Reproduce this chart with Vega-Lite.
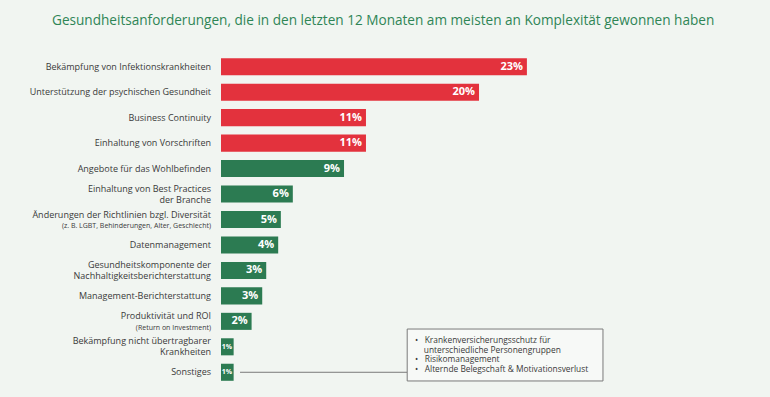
{
  "$schema": "https://vega.github.io/schema/vega-lite/v6.json",
  "width": 532,
  "height": 331,
  "autosize": {"type": "none"},
  "padding": {"left": 221, "top": 54, "right": 17, "bottom": 12},
  "background": "#f1f5f1",
  "config": {"view": {"stroke": null}, "font": "Open Sans"},
  "title": {
    "text": "Gesundheitsanforderungen, die in den letzten 12 Monaten am meisten an Komplexität gewonnen haben",
    "anchor": "start",
    "frame": "group",
    "dx": -169,
    "offset": 26,
    "fontSize": 13.6,
    "fontWeight": "normal",
    "color": "#2f8556",
    "font": "Open Sans"
  },
  "datasets": {
    "bars": [
      {"cat": "Bekämpfung von Infektionskrankheiten", "sub": null, "share": 23, "text": "23%", "gruppe": "Top"},
      {"cat": "Unterstützung der psychischen Gesundheit", "sub": null, "share": 19.4, "text": "20%", "gruppe": "Top"},
      {"cat": "Business Continuity", "sub": null, "share": 10.9, "text": "11%", "gruppe": "Top"},
      {"cat": "Einhaltung von Vorschriften", "sub": null, "share": 10.9, "text": "11%", "gruppe": "Top"},
      {"cat": "Angebote für das Wohlbefinden", "sub": null, "share": 9.25, "text": "9%", "gruppe": "Weitere"},
      {"cat": "Einhaltung von Best Practices\nder Branche", "sub": null, "share": 5.4, "text": "6%", "gruppe": "Weitere"},
      {"cat": "Änderungen der Richtlinien bzgl. Diversität", "sub": "(z. B. LGBT, Behinderungen, Alter, Geschlecht)", "share": 4.5, "text": "5%", "gruppe": "Weitere"},
      {"cat": "Datenmanagement", "sub": null, "share": 4.3, "text": "4%", "gruppe": "Weitere"},
      {"cat": "Gesundheitskomponente der\nNachhaltigkeitsberichterstattung", "sub": null, "share": 3.4, "text": "3%", "gruppe": "Weitere"},
      {"cat": "Management-Berichterstattung", "sub": null, "share": 3.1, "text": "3%", "gruppe": "Weitere"},
      {"cat": "Produktivität und ROI", "sub": "(Return on Investment)", "share": 2.3, "text": "2%", "gruppe": "Weitere"},
      {"cat": "Bekämpfung nicht übertragbarer\nKrankheiten", "sub": null, "share": 0.95, "text": "1%", "gruppe": "Weitere"},
      {"cat": "Sonstiges", "sub": null, "share": 0.95, "text": "1%", "gruppe": "Weitere"}
    ],
    "note": [
      {"lines": "•\u00a0\u00a0\u00a0Krankenversicherungsschutz für\n\u200b\u00a0\u00a0\u00a0\u00a0unterschiedliche Personengruppen\n•\u00a0\u00a0\u00a0Risikomanagement\n•\u00a0\u00a0\u00a0Alternde Belegschaft & Motivationsverlust"}
    ]
  },
  "layer": [
    {
      "data": {"name": "bars"},
      "mark": {"type": "bar"},
      "encoding": {
        "y": {"field": "cat", "type": "nominal", "sort": null, "axis": null, "scale": {"paddingInner": 0.33, "paddingOuter": 0.165}},
        "x": {"field": "share", "type": "quantitative", "axis": null, "scale": {"domain": [0, 40], "nice": false, "zero": true}},
        "color": {"field": "gruppe", "type": "nominal", "legend": null, "scale": {"domain": ["Top", "Weitere"], "range": ["#e3323d", "#2c7b52"]}}
      }
    },
    {
      "data": {"name": "bars"},
      "transform": [{"filter": "datum.share >= 2"}],
      "mark": {"type": "text", "align": "right", "baseline": "middle", "dx": -4, "fontSize": 11, "fontWeight": "bold", "color": "white"},
      "encoding": {
        "y": {"field": "cat", "type": "nominal", "sort": null},
        "x": {"field": "share", "type": "quantitative"},
        "text": {"field": "text"}
      }
    },
    {
      "data": {"name": "bars"},
      "transform": [{"filter": "datum.share < 2"}],
      "mark": {"type": "text", "align": "right", "baseline": "middle", "dx": -1.5, "fontSize": 7, "fontWeight": "bold", "color": "white"},
      "encoding": {
        "y": {"field": "cat", "type": "nominal", "sort": null},
        "x": {"field": "share", "type": "quantitative"},
        "text": {"field": "text"}
      }
    },
    {
      "data": {"name": "bars"},
      "transform": [{"filter": "datum.sub == null && indexof(datum.cat, '\\n') < 0"}],
      "mark": {"type": "text", "align": "right", "baseline": "middle", "dx": -10, "fontSize": 9, "color": "#3a3a3a"},
      "encoding": {
        "y": {"field": "cat", "type": "nominal", "sort": null},
        "x": {"datum": 0, "type": "quantitative"},
        "text": {"field": "cat"}
      }
    },
    {
      "data": {"name": "bars"},
      "transform": [{"filter": "indexof(datum.cat, '\\n') >= 0"}],
      "mark": {"type": "text", "align": "right", "baseline": "middle", "dx": -10, "dy": -5.5, "fontSize": 9, "color": "#3a3a3a", "lineBreak": "\n", "lineHeight": 11},
      "encoding": {
        "y": {"field": "cat", "type": "nominal", "sort": null},
        "x": {"datum": 0, "type": "quantitative"},
        "text": {"field": "cat"}
      }
    },
    {
      "data": {"name": "bars"},
      "transform": [{"filter": "datum.sub != null"}],
      "mark": {"type": "text", "align": "right", "baseline": "middle", "dx": -10, "dy": -5, "fontSize": 9, "color": "#3a3a3a"},
      "encoding": {
        "y": {"field": "cat", "type": "nominal", "sort": null},
        "x": {"datum": 0, "type": "quantitative"},
        "text": {"field": "cat"}
      }
    },
    {
      "data": {"name": "bars"},
      "transform": [{"filter": "datum.sub != null"}],
      "mark": {"type": "text", "align": "right", "baseline": "middle", "dx": -10, "dy": 6.5, "fontSize": 7, "color": "#3a3a3a"},
      "encoding": {
        "y": {"field": "cat", "type": "nominal", "sort": null},
        "x": {"datum": 0, "type": "quantitative"},
        "text": {"field": "sub"}
      }
    },
    {
      "data": {"name": "note"},
      "mark": {"type": "rule", "color": "#7a7a7a", "strokeWidth": 1},
      "encoding": {
        "x": {"datum": 1.43, "type": "quantitative"},
        "x2": {"datum": 14.0},
        "y": {"datum": "Sonstiges", "type": "nominal"}
      }
    },
    {
      "data": {"name": "note"},
      "mark": {"type": "rect", "fill": "#f7f9f7", "stroke": "#7a7a7a", "strokeWidth": 1},
      "encoding": {
        "x": {"datum": 14.0, "type": "quantitative"},
        "x2": {"datum": 28.72},
        "y": {"datum": "Produktivität und ROI", "type": "nominal", "bandPosition": 0.95},
        "y2": {"datum": "Sonstiges", "bandPosition": 1.01}
      }
    },
    {
      "data": {"name": "note"},
      "mark": {"type": "text", "align": "left", "baseline": "top", "fontSize": 8.4, "color": "#3a3a3a", "lineBreak": "\n", "lineHeight": 9.7},
      "encoding": {
        "x": {"datum": 14.59, "type": "quantitative"},
        "y": {"datum": "Produktivität und ROI", "type": "nominal", "bandPosition": 1.35},
        "text": {"field": "lines"}
      }
    }
  ]
}
